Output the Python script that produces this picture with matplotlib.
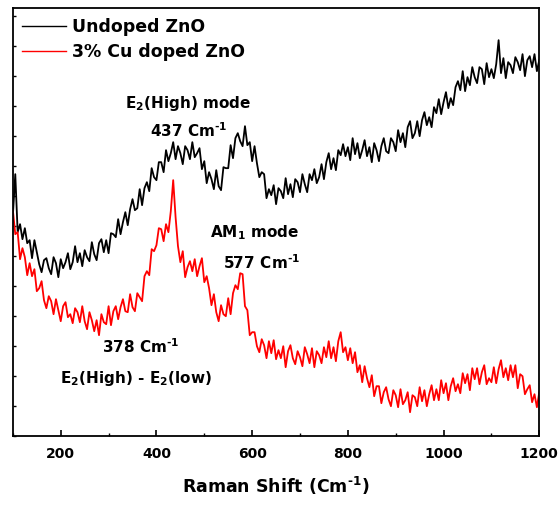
import numpy as np
import matplotlib
matplotlib.use("Agg")
import matplotlib.pyplot as plt
from matplotlib.ticker import MultipleLocator

# ============================================================
# Data (arbitrary intensity units)
# ============================================================
shift = list(range(100, 1205, 5))

undoped = [
    221, 262, 204, 212, 197, 208, 193, 196, 178, 196, 184, 172, 164, 176, 178, 168,
    162, 179, 173, 159, 177, 168, 174, 183, 167, 174, 190, 174, 183, 170, 186, 179,
    175, 194, 182, 176, 193, 197, 184, 196, 183, 203, 202, 199, 217, 202, 214, 224,
    211, 227, 237, 226, 228, 247, 231, 248, 254, 245, 268, 259, 256, 274, 274, 264,
    286, 275, 283, 294, 277, 290, 283, 272, 290, 286, 277, 294, 279, 283, 288, 267,
    275, 253, 264, 257, 247, 266, 250, 246, 269, 268, 268, 291, 278, 298, 303, 295,
    290, 310, 291, 294, 275, 290, 273, 259, 264, 262, 238, 247, 241, 251, 232, 248,
    245, 238, 258, 242, 252, 239, 257, 254, 244, 262, 252, 244, 262, 256, 267, 253,
    259, 272, 257, 274, 283, 267, 278, 266, 286, 281, 292, 280, 289, 276, 298, 282,
    293, 278, 286, 296, 280, 289, 274, 293, 286, 275, 290, 298, 285, 283, 298, 294,
    285, 306, 294, 303, 289, 309, 315, 298, 303, 315, 300, 316, 324, 311, 319, 309,
    329, 323, 337, 322, 334, 344, 328, 338, 331, 349, 355, 346, 365, 345, 359, 351,
    369, 359, 353, 369, 367, 352, 373, 359, 367, 358, 372, 396, 363, 378, 358, 374,
    371, 363, 379, 374, 366, 382, 360, 376, 380, 369, 382, 365, 376,
]

cu_doped = [
    226, 202, 204, 177, 188, 179, 161, 173, 160, 167, 145, 148, 155, 136, 128, 140,
    135, 122, 137, 126, 115, 130, 134, 119, 122, 113, 128, 124, 114, 130, 115, 107,
    124, 116, 105, 116, 101, 122, 114, 112, 130, 111, 125, 130, 117, 129, 137, 125,
    124, 142, 129, 125, 143, 139, 135, 160, 165, 161, 187, 185, 191, 208, 207, 195,
    212, 204, 225, 256, 219, 190, 174, 185, 159, 169, 175, 165, 177, 160, 170, 178,
    154, 160, 148, 131, 142, 124, 115, 131, 122, 120, 138, 122, 143, 151, 147, 163,
    162, 130, 126, 101, 104, 104, 90, 84, 97, 91, 78, 95, 83, 96, 77, 86,
    78, 90, 69, 85, 91, 78, 72, 85, 79, 70, 89, 82, 73, 88, 69, 85,
    81, 73, 89, 79, 95, 78, 89, 75, 95, 104, 84, 89, 76, 88, 73, 84,
    64, 71, 54, 70, 58, 49, 61, 40, 50, 50, 33, 44, 49, 37, 30, 46,
    41, 29, 47, 32, 36, 44, 24, 41, 39, 30, 49, 35, 46, 30, 42, 51,
    36, 47, 36, 56, 43, 53, 36, 50, 58, 45, 52, 43, 63, 53, 62, 46,
    68, 57, 68, 52, 64, 71, 52, 58, 54, 69, 53, 67, 76, 59, 68, 56,
    71, 59, 71, 48, 62, 60, 42, 47, 51, 34, 42, 29, 44,
]

series_labels = ["Undoped ZnO", "3% Cu doped ZnO"]
x_ticks = [200, 400, 600, 800, 1000, 1200]

HY = "\u2010"  # plain hyphen for the superscript, like the original

# ============================================================
# Style
# ============================================================
plt.rcParams['font.family'] = ['DejaVu Sans']
plt.rcParams['font.weight'] = 'bold'
plt.rcParams['mathtext.fontset'] = 'dejavusans'
plt.rcParams['mathtext.default'] = 'bf'

fig = plt.figure(figsize=(5.6, 5.09), dpi=100)
ax = fig.add_axes([0.023, 0.143, 0.940, 0.841])

ax.plot(shift, undoped, color='black', lw=1.3, label=series_labels[0])
ax.plot(shift, cu_doped, color='red', lw=1.3, label=series_labels[1])

ax.set_xlim(100, 1200)
ax.set_ylim(0, 428)

ax.set_xticks(x_ticks)
ax.xaxis.set_minor_locator(MultipleLocator(100))
ax.yaxis.set_major_locator(MultipleLocator(30))
ax.tick_params(axis='x', which='major', direction='in', length=4, width=1.2,
               labelsize=10, pad=8)
ax.tick_params(axis='x', which='minor', direction='in', length=2, width=1.0)
ax.tick_params(axis='y', which='major', direction='in', length=2, width=1.0,
               labelleft=False)
for lbl in ax.get_xticklabels():
    lbl.set_fontweight('bold')
for sp in ax.spines.values():
    sp.set_linewidth(1.3)

ax.set_xlabel('Raman Shift (Cm$^{' + HY + '1}$)', fontsize=12.5,
              fontweight='bold', labelpad=10)

leg = ax.legend(loc='upper left', frameon=False, fontsize=12.5,
                handlelength=2.5, handletextpad=0.35, labelspacing=0.42,
                borderpad=0.4, borderaxespad=0.15)
for t in leg.get_texts():
    t.set_fontweight('bold')
for h in leg.get_lines():
    h.set_linewidth(1.0)

# ============================================================
# Annotations
# ============================================================
ann = dict(fontsize=11, fontweight='bold', ha='left', va='baseline')
ax.text(334, 328, r'E$_2$(High) mode', **ann)
ax.text(386, 299, '437 Cm$^{' + HY + '1}$', **ann)
ax.text(512, 199, r'AM$_1$ mode', **ann)
ax.text(539, 167, '577 Cm$^{' + HY + '1}$', **ann)
ax.text(286, 83, '378 Cm$^{' + HY + '1}$', **ann)
ax.text(198, 53, r'E$_2$(High) - E$_2$(low)', **ann)

plt.savefig("out.png", dpi=100)
